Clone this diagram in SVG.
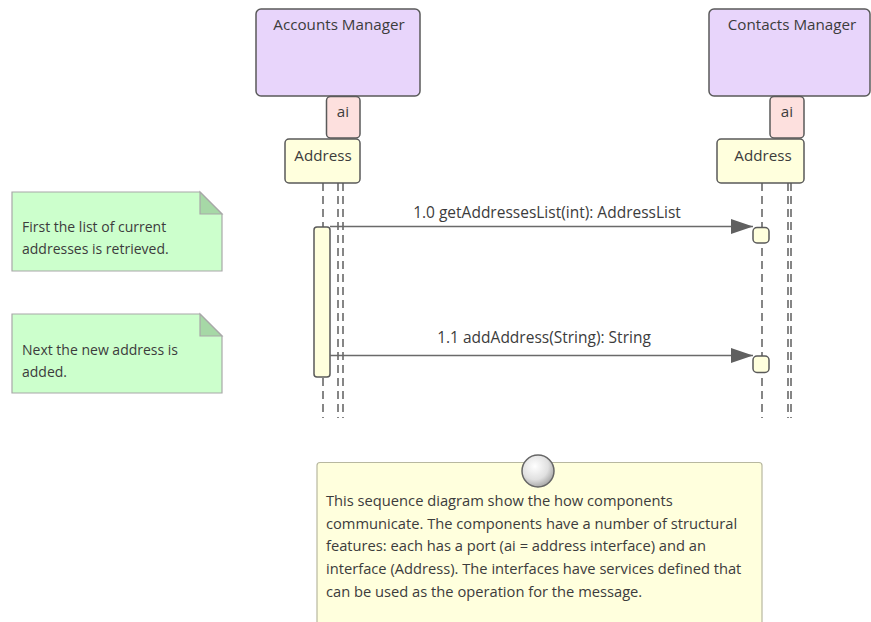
<svg xmlns="http://www.w3.org/2000/svg" width="871" height="622" viewBox="0 0 871 622">
<style>
text{font-family:"Open Sans","Liberation Sans","DejaVu Sans",sans-serif;fill:#3c3c3c;font-size:14px}
.lbl{font-size:15.2px}
.mlbl{font-size:15.5px}
.desc{font-size:14.7px}
.comp{fill:#e8d5fb;stroke:#5a5a5a;stroke-width:1.5}
.port{fill:#fde0de;stroke:#5a5a5a;stroke-width:1.5}
.iface{fill:#ffffdd;stroke:#5a5a5a;stroke-width:1.5}
.life{stroke:#5f5f5f;stroke-width:1.5;stroke-dasharray:8,5;fill:none}
.msg{stroke:#6a6a6a;stroke-width:1.5;fill:none}
.note{fill:#ccffcc;stroke:#a8a8a8;stroke-width:1.2}
.ear{fill:#a6d8a6;stroke:#a8a8a8;stroke-width:1.2}
.mid{text-anchor:middle}
</style>
<defs>
<marker id="arr" viewBox="0 0 22 15" refX="22" refY="7.5" markerWidth="22" markerHeight="15" markerUnits="userSpaceOnUse" orient="auto">
<path d="M0,0 L22,7.5 L0,15 Z" fill="#606060"/>
</marker>
<radialGradient id="ball" cx="0.4" cy="0.35" r="0.7">
<stop offset="0" stop-color="#ffffff"/>
<stop offset="0.6" stop-color="#e0e0e0"/>
<stop offset="1" stop-color="#a0a0a0"/>
</radialGradient>
</defs>

<g id="lifelines">
<line class="life" x1="323" y1="183" x2="323" y2="418"/>
<line class="life" x1="338" y1="183" x2="338" y2="418"/>
<line class="life" x1="343" y1="183" x2="343" y2="418"/>
<line class="life" x1="762" y1="183" x2="762" y2="418"/>
<line class="life" x1="788" y1="183" x2="788" y2="418"/>
<line class="life" x1="791" y1="183" x2="791" y2="418"/>
</g>

<g id="accounts-manager">
<rect class="comp" x="256" y="9" width="164" height="87" rx="5"/>
<text class="mid lbl" x="339" y="30">Accounts Manager</text>
</g>
<g id="accounts-port">
<rect class="port" x="326.5" y="96.5" width="33.5" height="41.5" rx="4"/>
<text class="mid lbl" x="343" y="117">ai</text>
</g>
<g id="accounts-address">
<rect class="iface" x="285" y="139" width="75" height="44" rx="4"/>
<text class="mid lbl" x="323" y="161">Address</text>
</g>

<g id="contacts-manager">
<rect class="comp" x="709" y="9" width="161" height="87" rx="5"/>
<text class="mid lbl" x="792" y="30">Contacts Manager</text>
</g>
<g id="contacts-port">
<rect class="port" x="770" y="96.5" width="34" height="41.5" rx="4"/>
<text class="mid lbl" x="787" y="117">ai</text>
</g>
<g id="contacts-address">
<rect class="iface" x="717" y="139" width="87" height="44" rx="4"/>
<text class="mid lbl" x="763" y="161">Address</text>
</g>

<g id="activation-left">
<rect class="iface" x="314" y="227" width="16" height="150" rx="3"/>
</g>
<g id="activation-right-1">
<rect class="iface" x="753" y="227.5" width="16" height="15.5" rx="4"/>
</g>
<g id="activation-right-2">
<rect class="iface" x="753" y="356" width="16" height="16.5" rx="4"/>
</g>

<g id="connectors">
<line class="msg" x1="330" y1="226.5" x2="753" y2="226.5" marker-end="url(#arr)"/>
<text class="mid mlbl" x="547" y="218">1.0 getAddressesList(int): AddressList</text>
<line class="msg" x1="330" y1="355.5" x2="753" y2="355.5" marker-end="url(#arr)"/>
<text class="mid mlbl" x="544" y="343">1.1 addAddress(String): String</text>
</g>

<g id="note-1">
<path class="note" d="M12,192 H200 L222,214 V271 H12 Z"/>
<path class="ear" d="M200,192 V214 H222 Z"/>
<text x="22" y="232">First the list of current</text>
<text x="22" y="254">addresses is retrieved.</text>
</g>

<g id="note-2">
<path class="note" d="M12,314 H200 L222,336 V393 H12 Z"/>
<path class="ear" d="M200,314 V336 H222 Z"/>
<text x="22" y="355">Next the new address is</text>
<text x="22" y="377">added.</text>
</g>

<g id="description-note">
<rect x="317" y="462.5" width="445" height="175" rx="3" fill="#ffffdd" stroke="#b8b8a0" stroke-width="1.2"/>
<circle cx="538" cy="471" r="16" fill="url(#ball)" stroke="#666" stroke-width="1.5"/>
<text class="desc" x="326" y="506">This sequence diagram show the how components</text>
<text class="desc" x="326" y="529">communicate. The components have a number of structural</text>
<text class="desc" x="326" y="551">features:  each has a port (ai = address interface) and an</text>
<text class="desc" x="326" y="574">interface (Address). The interfaces have services defined that</text>
<text class="desc" x="326" y="597">can be used as the operation for the message.</text>
</g>
</svg>
